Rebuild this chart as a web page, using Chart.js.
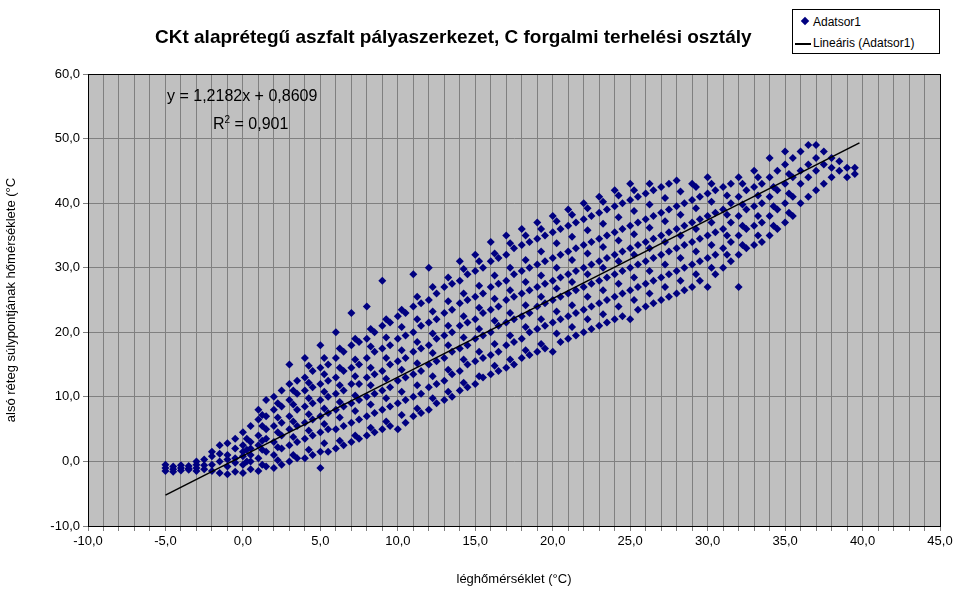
<!DOCTYPE html>
<html lang="hu">
<head>
<meta charset="UTF-8">
<script src="https://cdn.jsdelivr.net/npm/chart.js"></script>
<style>
 body { margin: 0; background: #fff; font-family: 'Liberation Sans', Arial, sans-serif; }
 #wrap { position: relative; width: 966px; height: 601px; overflow: hidden; }
 #title { position: absolute; left: 155px; top: 26px; font-size: 19px; font-weight: bold; white-space: nowrap; }
 #legend { position: absolute; left: 792px; top: 9px; width: 146px; height: 43px; background: #fff; border: 1px solid #000; font-size: 12px; }
 #legend div { position: relative; height: 18px; line-height: 18px; padding-left: 20px; margin-top: 3px; }
 .dia { position: absolute; left: 9px; top: 5px; width: 6px; height: 6px; background: #000080; transform: rotate(45deg); }
 .ln { position: absolute; left: 2px; top: 9px; width: 16px; height: 2px; background: #000; }
 .eq { position: absolute; font-size: 16px; white-space: nowrap; }
</style>
</head>
<body>
<div id="wrap">
 <canvas id="c" width="966" height="601"></canvas>
 <div id="title">CKt alaprétegű aszfalt pályaszerkezet, C forgalmi terhelési osztály</div>
 <div id="legend">
  <div><span class="dia"></span>Adatsor1</div>
  <div><span class="ln"></span>Lineáris (Adatsor1)</div>
 </div>
 <div class="eq" style="left:167px;top:87px">y = 1,2182x + 0,8609</div>
 <div class="eq" style="left:213px;top:114px">R<sup style="font-size:10px">2</sup> = 0,901</div>
</div>
<script>
// air temperature columns and the layer temperatures read at each of them
const airTemp = [-5,-4.5,-4,-3.5,-3,-2.5,-2,-1.5,-1,-0.5,0,0.5,1,1.5,2,2.5,3,3.5,4,4.5,5,5.5,6,6.5,7,7.5,8,8.5,9,9.5,10,10.5,11,11.5,12,12.5,13,13.5,14,14.5,15,15.5,16,16.5,17,17.5,18,18.5,19,19.5,20,20.5,21,21.5,22,22.5,23,23.5,24,24.5,25,25.5,26,26.5,27,27.5,28,28.5,29,29.5,30,30.5,31,31.5,32,32.5,33,33.5,34,34.5,35,35.5,36,36.5,37,37.5,38,38.5,39,39.5];
const layerTemp = [
 [-1.5,-1,-0.5],[-1.2,-0.8,-1.6],[-1,-1.4,-0.6],[-1.3,-0.7,-1.1],[-1,-0.5,0,-1.5],[-1.2,0.3,-0.6],
 [-1.5,-0.5,0.8,1.5],[-1.8,0,1.2,2.5],[-2,-0.8,1,2.8,0.3],[-1.6,0.5,2,3.5,-0.2],[-1.8,0.8,2.5,4.5,1.5,-0.5],
 [-1.2,1,3,5.5,2,0],[-1.5,0.5,2.5,4,6.5,8],[-0.8,1.5,3.5,5,7,9.5],[-1,1,3,5.5,8,10],[-0.5,2,4,6,8.5,11],
 [0,2.5,5,7,9.5,12,15],[0.5,3,5.5,8,10.5,12.5],[0.5,3.5,6,8.5,11,13,16],[1,4,6.5,9,11.5,14],
 [-1,1.5,4.5,7,9.5,12,14.5,18],[1.5,5,7.5,10,12.5,15],[2,5,8,10.5,13,16,20],[2.5,5.5,8.5,11,14,17],
 [3,6,9,12,14.5,18,23],[3.5,6.5,9.5,12,15,18.5],[4,7,10,13,16,19,24],[4.5,7.5,10.5,13.5,17,20],
 [5,8,11,14,17.5,21,28],[5.5,8.5,11.5,15,18,21.5],[5,9,12.5,15.5,19,22.5],[6,9.5,13,16,19.5,23],
 [7,10,13.5,17,20,24,29],[7.5,10.5,14,17.5,21,24.5],[8,11.5,15,18,21.5,25,30],[9,12,15.5,19,22,26],
 [9.5,12.5,16,19.5,23,27],[10,13.5,17,20,23.5,27.5],[11,14,17.5,21,24.5,28,31],[11.5,15,18,21.5,25,29],
 [12,15.5,19,22,25.5,29.5,32],[13,16,19.5,23,26,30],[13.5,16.5,20,23.5,27,31,34],[14,17,21,24,27.5,31.5],
 [14.5,18,21.5,25,28,32,35],[15,18.5,22,25.5,29,33],[16,19,22.5,26,29.5,33.5,36],[16.5,20,23,26.5,30,34],
 [17,20.5,24,27,30.5,34.5,37],[17.5,21,24.5,27.5,31,35],[17,21.5,25,28,31.5,35.5,38],[18.5,22,25.5,28.5,32,36],
 [19,22.5,26,29,32.5,36.5,39],[19.5,23,26.5,29.5,33,37],[20,23.5,27,30,33.5,37.5,40],[20.5,24,27.5,30.5,34,38],
 [21,24.5,28,31,34.5,38.5,41],[21.5,25,28.5,31.5,35,39],[22,25.5,29,32,35.5,39.5,42],[22.5,26,29.5,32.5,36,40],
 [22,26.5,30,33,36.5,40.5,43],[23.5,27,30.5,33.5,37,41],[24,27.5,31,34,37.5,41.5],[24.5,28,31.5,34.5,38,42],
 [25,28.5,32,35,38.5,42.5],[25.5,29,32.5,35.5,39,43],[26,29.5,33,36,39.5,43.5],[26.5,30,33.5,36.5,40],
 [27,30.5,34,37,40.5,43],[28,31,34.5,37.5,41],[27,31.5,35,38,41.5,44],[29,32,35.5,38.5,42],
 [30,33,36,39,42.5],[31,34,37,40,43],[27,32,35,38,41,44],[33,36,39,42],
 [33.5,36.5,39.5,42.5,45],[34,37,40,43],[35,38,41,44,47],[36,39,42,45],
 [37,40,43,46,48],[38,41,44,47],[40,43,45,48],[41,44,46,49],[42,45,47,49],[43,46,48],
 [44,45.5,47],[45,46.5],[44,45.5],[44.5,45.5]
];
// in-between columns
const airTemp2 = [0.25,1.25,2.25,3.25,4.25,5.25,6.25,7.25,8.25,9.25,10.25,11.25,12.25,13.25,14.25,15.25,16.25,17.25,18.25,19.25,20.25,21.25,22.25,23.25,24.25,25.25,26.25,27.25,28.25,29.25,30.25,31.25,32.25,33.25,34.25,35.25];
const layerTemp2 = [
 [0,1.8,3.5],[-0.5,1.8,3.2,5.5,7.2],[0.2,2.2,4.5,6.8,9],[1,3.8,6.2,8.8,11],[1.8,4.8,7.3,9.8,12.2,14.8],
 [2.8,5.8,8.2,10.8,13.5,16],[3.2,6.8,9.2,11.8,14.5,17.5],[4,7.8,10.2,13.2,15.8,19],[5.2,8.8,11.8,14.5,17.8,20.5],
 [6.2,9.8,12.8,16,19.2,22],[7.2,10.8,14.2,17.2,20.8,23.5],[8.2,11.8,15.2,18.5,22,25.5],[9.8,13.2,16.8,19.8,23.2,27],
 [10.8,14.2,18,21,24.8,28.5],[12.2,15.8,19.2,22.5,26,29.8],[13.2,17,20.5,23.8,27.2,31],[14.8,18.2,21.8,25.2,28.8,32.2],
 [15.8,19.5,23,26.5,30,33.8],[17.2,20.8,24.2,27.8,31.2,35],[18.2,22,25.5,28.8,32.5,36],[19.8,23.2,26.8,30,33.8,37.2],
 [20.8,24.2,27.8,31.2,34.8,38.2],[22,25.5,29,32.2,35.8,39.2],[22.8,26.5,30,33.2,36.8,40.2],[24,27.5,31,34.2,37.8,41.2],
 [25,28.5,32,35.2,38.8,42],[26,29.5,33,36.2,39.8,43],[27,30.5,34,37.2,40.8],[28,31.5,35,38.2,41.8],
 [29,32.5,36,39.2,42.5],[30,33.5,37,40.2,43],[32,35,38.2,41.2],[33.5,36.5,39.8,43],[35,38,41.2,44],
 [36.5,39.5,42.5],[38.5,41.5,44.5]
];
const slope = 1.2182, intercept = 0.8609;
const trendX = [-5, 39.8];

const points = [];
airTemp.forEach((x, i) => layerTemp[i].forEach(y => points.push({x: x, y: y})));
airTemp2.forEach((x, i) => layerTemp2[i].forEach(y => points.push({x: x, y: y})));
const trend = trendX.map(x => ({x: x, y: slope * x + intercept}));
const fmt = v => v.toFixed(1).replace('.', ',');

const plotBg = {
  id: 'plotBg',
  beforeDraw(ch) {
    const a = ch.chartArea, g = ch.ctx;
    g.save(); g.fillStyle = '#C0C0C0'; g.fillRect(a.left, a.top, a.right - a.left, a.bottom - a.top); g.restore();
  },
  afterDraw(ch) {
    const a = ch.chartArea, g = ch.ctx;
    g.save(); g.strokeStyle = '#000'; g.lineWidth = 1; g.strokeRect(a.left + 0.5, a.top + 0.5, a.right - a.left, a.bottom - a.top); g.restore();
  }
};

new Chart(document.getElementById('c'), {
  type: 'scatter',
  data: { datasets: [
    { data: trend, type: 'line', borderColor: '#000', borderWidth: 1.5, pointRadius: 0, order: 0 },
    { data: points, pointStyle: 'rectRot', pointRadius: 4, backgroundColor: '#000080', borderColor: '#000080', borderWidth: 0, order: 1 }
  ]},
  options: {
    responsive: false, animation: false,
    layout: { padding: { top: 74, right: 26, left: 0, bottom: 0 } },
    plugins: { legend: { display: false }, tooltip: { enabled: false } },
    scales: {
      x: {
        min: -10, max: 45,
        afterFit: s => { s.height = 75; },
        ticks: { stepSize: 1, autoSkip: false, maxRotation: 0, color: '#000', font: { family: 'Liberation Sans', size: 13 },
                 callback: v => (v % 5 === 0 ? fmt(v) : '') },
        grid: { color: '#808080', drawTicks: true, tickLength: 5 },
        border: { color: '#000' },
        title: { display: true, text: 'léghőmérséklet (°C)', color: '#000', padding: { top: 4, bottom: 14 }, font: { family: 'Liberation Sans', size: 13 } }
      },
      y: {
        min: -10, max: 60,
        afterFit: s => { s.width = 88; },
        ticks: { stepSize: 10, color: '#000', font: { family: 'Liberation Sans', size: 13 }, callback: v => fmt(v) },
        grid: { color: '#808080', tickLength: 5 },
        border: { color: '#000' },
        title: { display: true, text: 'alsó réteg súlypontjának hőmérséklete (°C', color: '#000', font: { family: 'Liberation Sans', size: 13 } }
      }
    }
  },
  plugins: [plotBg]
});
</script>
</body>
</html>
